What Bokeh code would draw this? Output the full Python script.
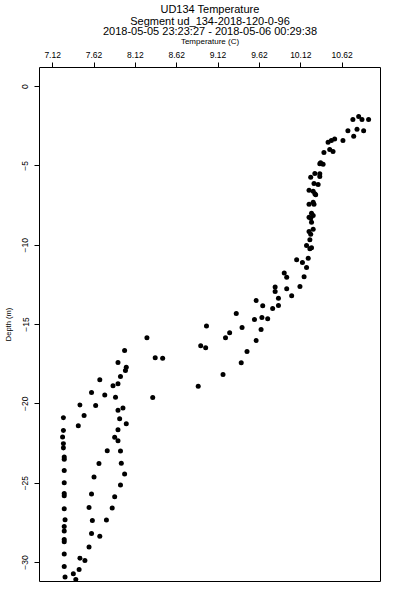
from bokeh.plotting import figure
from bokeh.models import Range1d, FixedTicker, NumeralTickFormatter, Title, ColumnDataSource
from bokeh.embed import file_html
from bokeh.resources import INLINE

# ---- text ----
title_lines = [
    "UD134 Temperature",
    "Segment ud_134-2018-120-0-96",
    "2018-05-05 23:23:27 - 2018-05-06 00:29:38",
]
x_label = "Temperature (C)"
y_label = "Depth (m)"
x_ticks = [7.12, 7.62, 8.12, 8.62, 9.12, 9.62, 10.12, 10.62]
y_ticks = [0, -5, -10, -15, -20, -25, -30]

# ---- data ----
temperature = [
    10.75, 10.82, 10.86, 10.94, 10.69, 10.80, 10.88, 10.76, 10.63, 10.53,
    10.49, 10.45, 10.47, 10.51, 10.40, 10.36, 10.39, 10.35, 10.29, 10.35,
    10.35, 10.24, 10.28, 10.33, 10.22, 10.27, 10.29, 10.30, 10.27, 10.22,
    10.28, 10.25, 10.27, 10.22, 10.24, 10.25, 10.27, 10.22, 10.24, 10.23,
    10.19, 10.23, 10.25, 10.07, 10.14, 10.21, 10.19, 9.92, 9.95, 10.16,
    10.11, 9.81, 9.81, 9.95, 9.85, 10.01, 9.58, 9.66, 9.78, 9.85,
    9.34, 9.56, 9.65, 9.72, 9.64, 8.98, 9.41, 9.26, 9.21, 8.91,
    8.97, 9.58, 9.47, 9.40, 9.18, 8.88, 8.26, 8.36, 8.45, 8.33,
    7.99, 7.91, 8.01, 8.00, 7.94, 7.69, 7.85, 7.91, 7.59, 7.75,
    7.88, 7.45, 7.64, 7.91, 7.97, 7.50, 7.93, 8.01, 7.43, 7.91,
    7.87, 7.91, 7.78, 7.94, 7.68, 7.95, 7.99, 7.62, 7.94, 7.59,
    7.87, 7.56, 7.84, 7.60, 7.77, 7.59, 7.69, 7.56, 7.45, 7.51,
    7.44, 7.37, 7.40,
    7.25, 7.25, 7.24, 7.25, 7.25, 7.26, 7.26, 7.26, 7.26, 7.26,
    7.26, 7.26, 7.27, 7.26, 7.26, 7.26, 7.26, 7.26, 7.26, 7.27,
]
depth = [
    -2.08, -1.89, -2.08, -2.08, -2.79, -2.69, -2.79, -3.13, -3.40, -3.30,
    -3.40, -3.51, -3.97, -4.10, -4.16, -4.81, -4.90, -4.87, -5.48, -5.50,
    -5.67, -5.72, -6.11, -6.18, -6.53, -6.60, -6.76, -6.82, -7.29, -7.42,
    -7.42, -7.98, -8.13, -8.24, -8.30, -8.55, -8.99, -9.14, -9.31, -9.66,
    -10.02, -10.23, -10.16, -10.92, -11.09, -10.82, -11.41, -11.76, -12.02, -11.99,
    -12.60, -12.63, -12.92, -12.75, -13.34, -13.19, -13.48, -13.82, -13.99, -13.80,
    -14.30, -14.68, -14.56, -14.64, -15.31, -15.10, -15.19, -15.52, -15.84, -16.34,
    -16.47, -16.01, -16.70, -17.41, -18.15, -18.90, -15.84, -17.10, -17.12, -19.60,
    -16.64, -17.39, -17.69, -17.90, -18.27, -18.48, -18.86, -18.73, -19.28, -19.45,
    -19.58, -20.08, -20.10, -20.40, -20.27, -20.73, -20.94, -21.25, -21.38, -21.63,
    -22.10, -22.33, -22.96, -22.98, -23.76, -23.74, -24.43, -24.62, -25.12, -25.69,
    -25.85, -26.53, -26.57, -27.35, -27.33, -28.17, -28.34, -29.03, -29.74, -29.87,
    -30.45, -30.71, -31.08,
    -20.88, -21.68, -22.09, -22.51, -22.78, -23.35, -23.50, -24.20, -24.97, -25.65,
    -25.80, -26.61, -27.30, -27.74, -28.02, -28.56, -28.69, -29.47, -30.25, -30.91,
]

FONT = "Liberation Sans"

src = ColumnDataSource(data=dict(t=temperature, d=depth))

p = figure(
    width=398, height=598,
    x_range=Range1d(6.961, 11.084), y_range=Range1d(-31.2, 1.2),
    x_axis_location="above",
    output_backend="svg", toolbar_location=None,
    min_border_left=38, min_border_right=18, min_border_top=67, min_border_bottom=17,
)
p.background_fill_color = "white"
p.border_fill_color = "white"
p.grid.visible = False
p.outline_line_color = "black"
p.outline_line_width = 1
p.outline_line_alpha = 1.0

for ax in (p.xaxis[0], p.yaxis[0]):
    ax.axis_line_color = None
    ax.major_tick_in = 0
    ax.major_tick_out = 5
    ax.major_tick_line_color = "black"
    ax.minor_tick_line_color = None
    ax.major_label_text_font = FONT
    ax.major_label_text_font_size = "8.5px"
    ax.major_label_text_color = "black"
    ax.axis_label_text_font = FONT
    ax.axis_label_text_font_style = "normal"
    ax.axis_label_text_color = "black"

p.xaxis.ticker = FixedTicker(ticks=x_ticks)
p.xaxis.formatter = NumeralTickFormatter(format="0.00")
p.xaxis.major_label_standoff = 5
p.xaxis.axis_label = x_label
p.xaxis.axis_label_text_font_size = "8px"
p.xaxis.axis_label_standoff = 3

p.yaxis.ticker = FixedTicker(ticks=y_ticks)
p.yaxis.major_label_orientation = "vertical"
p.yaxis.major_label_standoff = 6
p.yaxis.axis_label = y_label
p.yaxis.axis_label_text_font_size = "7.5px"
p.yaxis.axis_label_standoff = 7

p.scatter("t", "d", source=src, marker="circle", size=5,
          fill_color="black", line_color=None)

# title lines stacked above the axis (first added sits closest to the plot)
title_standoffs = [-2.5, -2.5, -6]
for txt, so in zip(reversed(title_lines), reversed(title_standoffs)):
    p.add_layout(Title(text=txt, align="center", text_font=FONT,
                       text_font_size="11px", text_font_style="normal",
                       text_color="black", standoff=so, offset=0), "above")

open("out.html", "w").write(file_html(p, INLINE))
